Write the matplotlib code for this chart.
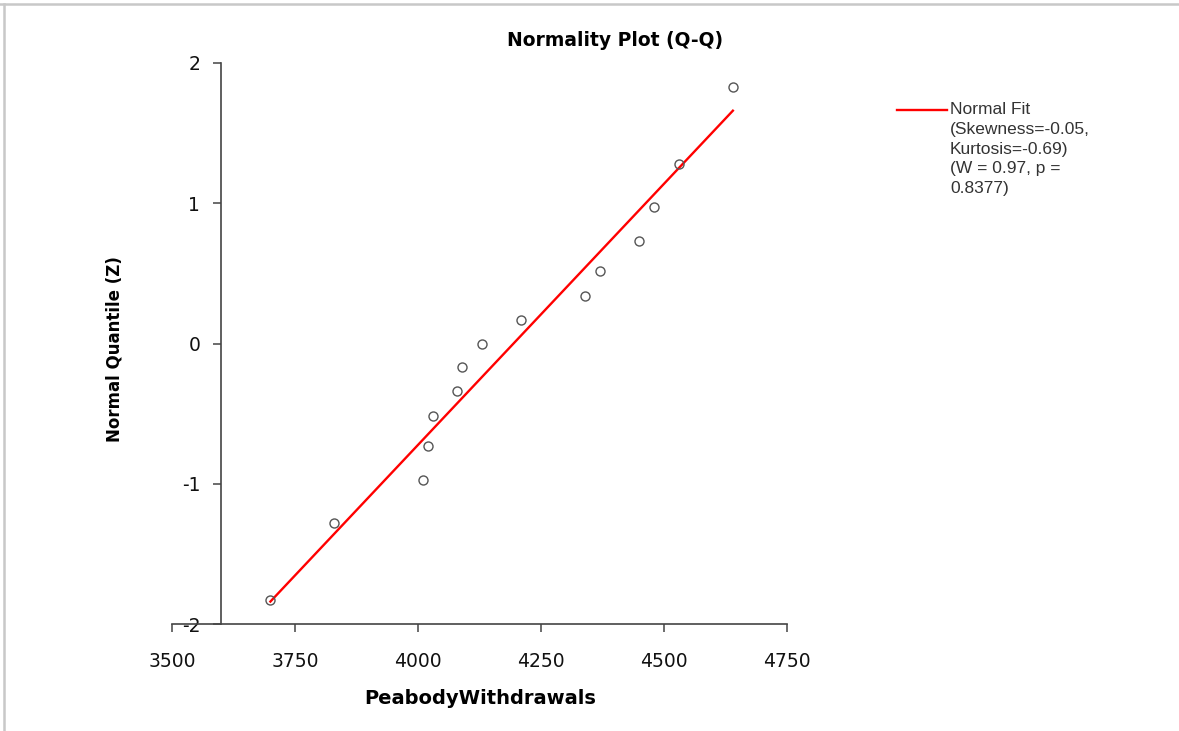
import matplotlib
matplotlib.use('Agg')
import matplotlib.pyplot as plt
from matplotlib.lines import Line2D

# data
withdrawals = [3700, 3830, 4010, 4020, 4030, 4080, 4090, 4130,
               4210, 4340, 4370, 4450, 4480, 4530, 4640]
quantiles = [-1.83, -1.28, -0.97, -0.73, -0.52, -0.34, -0.17, 0.0,
             0.17, 0.34, 0.52, 0.73, 0.97, 1.28, 1.83]
fit_x = [3700, 4640]
fit_z = [-1.84, 1.66]
x_ticks = [3500, 3750, 4000, 4250, 4500, 4750]
y_ticks = [-2, -1, 0, 1, 2]
legend_text = "Normal Fit\n(Skewness=-0.05,\nKurtosis=-0.69)\n(W = 0.97, p =\n0.8377)"

W, H = 1179, 731
fig = plt.figure(figsize=(W / 100, H / 100), dpi=100)
fig.patch.set_facecolor('white')

ax = fig.add_axes([172 / W, (H - 624) / H, 615 / W, 561 / H])
ax.plot(fit_x, fit_z, color='#ff0000', lw=1.7, zorder=2)
ax.plot(withdrawals, quantiles, 'o', ms=6.5, mfc='none', mec='#555555',
        mew=1.0, zorder=3)

ax.set_xlim(3500, 4750)
ax.set_ylim(-2, 2)
ax.set_xticks(x_ticks)
ax.set_yticks(y_ticks)
ax.set_xticklabels([str(v) for v in x_ticks])
ax.set_yticklabels([str(v) for v in y_ticks])

for s in ['top', 'right']:
    ax.spines[s].set_visible(False)
ax.spines['left'].set_position(('data', 3600))
for s in ['left', 'bottom']:
    ax.spines[s].set_color('#444444')
    ax.spines[s].set_linewidth(1.2)

ax.tick_params(axis='both', direction='out', length=6, width=1.1,
               color='#444444', labelsize=13.5, labelcolor='#111111')
ax.tick_params(axis='y', pad=9)
ax.tick_params(axis='x', pad=14)

fig.text(615 / W, 1 - 41 / H, 'Normality Plot (Q-Q)', ha='center',
         va='center', fontsize=13.5, fontweight='bold')
fig.text(480 / W, 1 - 698 / H, 'PeabodyWithdrawals', ha='center',
         va='center', fontsize=14, fontweight='bold')
fig.text(115 / W, 1 - 349 / H, 'Normal Quantile (Z)', ha='center',
         va='center', fontsize=12, fontweight='bold', rotation=90)

# legend entry
fig.add_artist(Line2D([897 / W, 947 / W], [1 - 110 / H, 1 - 110 / H],
                      color='#ff0000', lw=1.7))
fig.text(950 / W, 1 - 102 / H, legend_text, ha='left', va='top',
         fontsize=12.5, family='Liberation Sans', color='#333333',
         linespacing=1.4)

# frame on top and left edge
fig.add_artist(Line2D([0, 1], [1 - 3.5 / H, 1 - 3.5 / H], color='#c8c8c8', lw=1.8))
fig.add_artist(Line2D([4 / W, 4 / W], [0, 1 - 3.5 / H], color='#c8c8c8', lw=1.8))

fig.savefig('out.png', dpi=100)
